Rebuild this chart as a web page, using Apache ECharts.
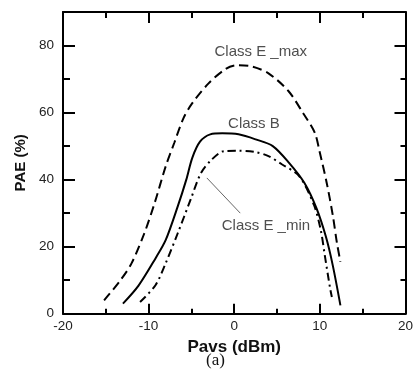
<!DOCTYPE html>
<html>
<head>
<meta charset="utf-8">
<script src="https://cdn.jsdelivr.net/npm/echarts@6/dist/echarts.min.js"></script>
<style>
html,body{margin:0;padding:0;background:#fff;}
#chart{width:416px;height:378px;}
</style>
</head>
<body>
<div id="chart"></div>
<script>
// ---- data ----
const classEmax = [[-15.2,4],[-13.4,9.6],[-12,15],[-10.5,24],[-9.3,33],[-8,44],[-7,51],[-5.9,58.5],[-4.9,62.8],[-3,68.7],[-1,73],[0.3,74.1],[2,73.8],[4,71.7],[6.3,66.5],[8,60],[9.4,54],[10,48],[10.8,39],[11.5,29.5],[12,21],[12.4,15.5]];
const classB = [[-13,3],[-11.2,8.3],[-9.2,16.5],[-8,22],[-6.6,32],[-5.6,40],[-4.9,46.5],[-4,51.3],[-2.8,53.5],[-1.4,53.8],[0.5,53.5],[2.5,52],[4.5,50],[6.4,45],[8.2,39],[9.6,31.5],[10.7,23],[11.5,14.5],[12.4,2.5]];
const classEmin = [[-11,3.5],[-9.2,8.5],[-8,15.1],[-6.6,24],[-5.1,34],[-3.9,41.9],[-2.7,45.8],[-1.2,48.5],[0.5,48.6],[2.5,48.2],[4,47],[5.6,44.5],[7.6,41],[9.3,32.5],[10.1,25],[10.6,17],[11.2,7.5],[11.4,5]];
const pointerLine = [[-3.2,40.5],[0.7,30]];
const curveLabels = ['Class E _max','Class B','Class E _min'];
const curveLabelX = [3.1, 2.3, 3.7];
const curveLabelY = [78, 56.5, 26.2];
const xTicks = [-20,-10,0,10,20];
const yTicks = [0,20,40,60,80];

const FONT = 'Liberation Sans, Arial, sans-serif';
const chart = echarts.init(document.getElementById('chart'));

function xAx(pos, main){
  return {
    type:'value', position:pos, min:xTicks[0], max:xTicks[xTicks.length-1], interval:10,
    axisLine:{show:true, onZero:false, lineStyle:{color:'#000', width:2}},
    axisTick:{show:true, inside:true, length: main?10:11, lineStyle:{color:'#000', width:2}},
    minorTick:{show:true, splitNumber:2, length: main?5:6, lineStyle:{color:'#000', width:2}},
    splitLine:{show:false}, minorSplitLine:{show:false},
    axisLabel:{show:main, color:'#222', fontSize:13.5, fontFamily:FONT, margin:6},
    name: main ? 'Pavs (dBm)' : '', nameLocation:'middle', nameGap:21,
    nameTextStyle:{fontSize:17, fontWeight:'bold', color:'#111', fontFamily:FONT}
  };
}
function yAx(pos, major, labels){
  return {
    type:'value', position:pos, min:0, max:90, interval: major?20:10,
    axisLine:{show: major, onZero:false, lineStyle:{color:'#000', width:2}},
    axisTick:{show:true, inside:true, length: major ? (pos==='left'?12:11) : (pos==='left'?7:5), lineStyle:{color:'#000', width:2}},
    splitLine:{show:false},
    axisLabel:{show:labels, color:'#222', fontSize:13.5, fontFamily:FONT, margin:9,
      formatter: v => yTicks.indexOf(v) >= 0 ? String(v) : ''},
    name: labels ? 'PAE (%)' : '', nameLocation:'middle', nameGap:31, nameRotate:90,
    nameTextStyle:{fontSize:15, fontWeight:'bold', color:'#111', fontFamily:FONT}
  };
}

chart.setOption({
  animation:false,
  backgroundColor:'#fff',
  grid:{left:63, right:9.5, top:12, bottom:64.3},
  xAxis:[xAx('bottom', true), xAx('top', false)],
  yAxis:[yAx('left', true, true), yAx('left', false, false), yAx('right', true, false), yAx('right', false, false)],
  graphic:[{type:'text', left:206, top:352, style:{text:'(a)', fontSize:17, fontFamily:'Liberation Serif, Times New Roman, serif', fill:'#111'}}],
  series:[
    {name:'Class E _max', type:'line', data:classEmax, smooth:0.3, symbol:'none',
     lineStyle:{color:'#000', width:2, type:[9,5]}},
    {name:'Class B', type:'line', data:classB, smooth:0.3, symbol:'none',
     lineStyle:{color:'#000', width:2, type:'solid'}},
    {name:'Class E _min', type:'line', data:classEmin, smooth:0.3, symbol:'none',
     lineStyle:{color:'#000', width:2, type:[8,4,2,4]}},
    {name:'pointer', type:'line', data:pointerLine, symbol:'none',
     lineStyle:{color:'#666', width:1}},
    {name:'labels', type:'scatter', symbolSize:0,
     data: curveLabels.map((t,i)=>[curveLabelX[i], curveLabelY[i], t]),
     label:{show:true, position:'inside', formatter:p=>p.value[2], color:'#222', fontSize:15, fontFamily:FONT}}
  ]
});
</script>
</body>
</html>
